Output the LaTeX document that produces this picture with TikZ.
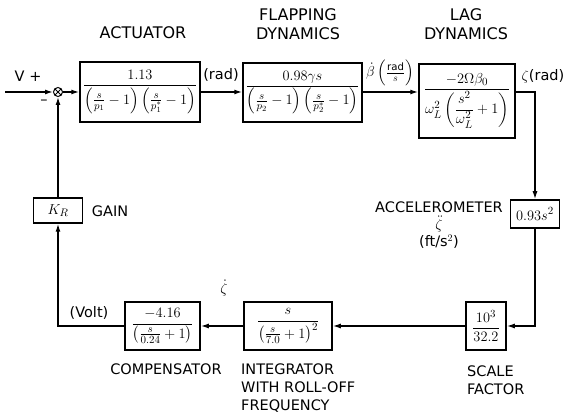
\documentclass[tikz,border=0pt]{standalone}
\usepackage{fontspec}
\setmainfont{DejaVu Sans}
\usepackage{amsmath}
\usetikzlibrary{arrows.meta,positioning}

\begin{document}
\begin{tikzpicture}[x=1pt, y=-1pt,
  blk/.style 2 args={rectangle, draw, line width=1.5pt, minimum width=#1, minimum height=#2, inner sep=0pt, align=center, font=\fontsize{15.5}{17}\selectfont},
  sumj/.style={circle, draw, line width=1pt, minimum size=9pt, inner sep=0pt,
    path picture={\draw (path picture bounding box.north west) -- (path picture bounding box.south east)
      (path picture bounding box.north east) -- (path picture bounding box.south west);}},
  ttl/.style={align=center, font=\fontsize{16}{19}\selectfont},
  lbl/.style={font=\fontsize{14.5}{18}\selectfont, inner sep=1pt},
  arr/.style={-{Latex[length=8pt, width=5pt]}, line width=1.4pt}
]
  \useasboundingbox (0,0) rectangle (566,417);

  \node[ttl] (tact)  at (143,33) {ACTUATOR};
  \node[ttl] (tflap) at (298,24) {FLAPPING\\DYNAMICS};
  \node[ttl] (tlag)  at (466,24) {LAG\\DYNAMICS};

  \node[sumj] (sum) at (58,92) {};
  \coordinate (vin) at (5,92);
  \node[blk={120pt}{60pt}] (act)  at (140,92)  {$\dfrac{1.13}{\left(\frac{s}{p_1}-1\right)\left(\frac{s}{p_1^{*}}-1\right)}$};
  \node[blk={119pt}{59pt}] (flap) at (302.5,92.5) {$\dfrac{0.98\gamma s}{\left(\frac{s}{p_2}-1\right)\left(\frac{s}{p_2^{*}}-1\right)}$};
  \node[blk={96pt}{74pt}]  (lag)  at (467,101) {$\dfrac{-2\Omega\beta_0}{\omega_L^2\left(\dfrac{s^2}{\omega_L^2}+1\right)}$};
  \node[blk={49pt}{28pt}]  (acc)  at (535,214) {$0.93s^2$};
  \node[blk={40pt}{48pt}]  (scl)  at (486,326) {$\dfrac{10^3}{32.2}$};
  \node[blk={88pt}{48pt}]  (integ) at (288,326) {$\dfrac{s}{\left(\frac{s}{7.0}+1\right)^2}$};
  \node[blk={75pt}{48pt}]  (comp) at (162.5,326) {$\dfrac{-4.16}{\left(\frac{s}{0.24}+1\right)}$};
  \node[blk={49pt}{25pt}]  (kr)   at (58,210.5) {$K_R$};

  \node[lbl] (lv)     at (28,76)  {V\,\,+};
  \node[lbl] (lminus) at (44,102) {--};
  \node[lbl] (lrad)   at (221,75) {(rad)};
  \node[lbl] (lbeta)  at (390,73) {$\dot\beta\left(\frac{\mathrm{rad}}{s}\right)$};
  \node[lbl] (lzeta)  at (543,76) {$\zeta$(rad)};
  \node[lbl] (lgain)  at (110,211) {GAIN};
  \node[lbl, align=center] (lacc) at (439,225) {ACCELEROMETER\\[-1pt]$\ddot\zeta$\\[-1pt](ft/s$^2$)};
  \node[lbl] (lzdot)  at (224,288) {$\dot\zeta$};
  \node[lbl] (lvolt)  at (89,313) {(Volt)};
  \node[lbl] (lcomp)  at (166,369) {COMPENSATOR};
  \node[lbl, align=left, anchor=west] (linteg) at (240,388) {INTEGRATOR\\WITH ROLL-OFF\\FREQUENCY};
  \node[lbl, align=left, anchor=west] (lscl) at (466,380) {SCALE\\FACTOR};

  \draw[arr] (vin) -- (sum);
  \draw[arr] (sum) -- (act);
  \draw[arr] (act) -- (act.east -| flap.west);
  \draw[arr] (flap.east |- act.east) -- (act.east -| lag.west);
  \draw[arr] (lag.east |- act.east) -| (acc);
  \draw[arr] (acc) |- (scl);
  \draw[arr] (scl) -- (integ);
  \draw[arr] (integ) -- (comp);
  \draw[arr] (comp) -| (kr);
  \draw[arr] (kr) -- (sum);
\end{tikzpicture}
\end{document}
